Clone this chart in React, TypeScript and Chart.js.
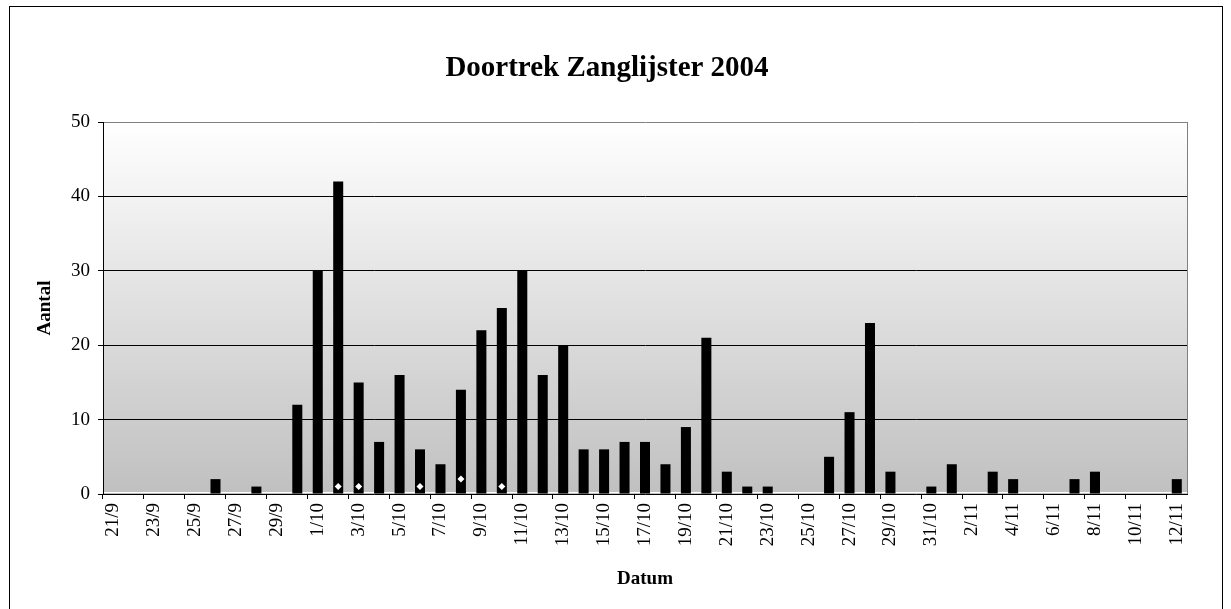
import React, { useEffect, useRef } from "react";
import { Chart, registerables } from "chart.js";

Chart.register(...registerables);

const dates = [
  "21/9", "22/9", "23/9", "24/9", "25/9", "26/9", "27/9", "28/9", "29/9", "30/9",
  "1/10", "2/10", "3/10", "4/10", "5/10", "6/10", "7/10", "8/10", "9/10", "10/10",
  "11/10", "12/10", "13/10", "14/10", "15/10", "16/10", "17/10", "18/10", "19/10", "20/10",
  "21/10", "22/10", "23/10", "24/10", "25/10", "26/10", "27/10", "28/10", "29/10", "30/10",
  "31/10", "1/11", "2/11", "3/11", "4/11", "5/11", "6/11", "7/11", "8/11", "9/11",
  "10/11", "11/11", "12/11",
];

const counts = [
  0, 0, 0, 0, 0, 2, 0, 1, 0, 12,
  30, 42, 15, 7, 16, 6, 4, 14, 22, 25,
  30, 16, 20, 6, 6, 7, 7, 4, 9, 21,
  3, 1, 1, 0, 0, 5, 11, 23, 3, 0,
  1, 4, 0, 3, 2, 0, 0, 2, 3, 0,
  0, 0, 2,
];

const markerValues = [
  null, null, null, null, null, null, null, null, null, null,
  null, 1, 1, null, null, 1, null, 2, null, 1,
  null, null, null, null, null, null, null, null, null, null,
  null, null, null, null, null, null, null, null, null, null,
  null, null, null, null, null, null, null, null, null, null,
  null, null, null,
];

const yTicks = [0, 10, 20, 30, 40, 50];

const chartTitle = "Doortrek Zanglijster 2004";
const yTitle = "Aantal";
const xTitle = "Datum";

const SERIF = "'Liberation Serif', 'Times New Roman', serif";

const decorPlugin = {
  id: "decor",
  beforeDraw(chart: any) {
    const { ctx, chartArea } = chart;
    ctx.save();
    ctx.strokeStyle = "#000";
    ctx.lineWidth = 1;
    ctx.strokeRect(9.5, 6.5, 1213, 700);
    const g = ctx.createLinearGradient(0, chartArea.top, 0, chartArea.bottom);
    g.addColorStop(0, "#ffffff");
    g.addColorStop(1, "#c0c0c0");
    ctx.fillStyle = g;
    ctx.fillRect(chartArea.left, chartArea.top, chartArea.right - chartArea.left, chartArea.bottom - chartArea.top);
    ctx.restore();
  },
  beforeDatasetsDraw(chart: any) {
    const { ctx, chartArea } = chart;
    const y0 = Math.round(chart.scales.y.getPixelForValue(0));
    ctx.save();
    ctx.strokeStyle = "#ffffff";
    ctx.lineWidth = 1;
    ctx.beginPath();
    ctx.moveTo(chartArea.left + 1, y0 - 1.5);
    ctx.lineTo(chartArea.right, y0 - 1.5);
    ctx.stroke();
    ctx.strokeStyle = "#808080";
    ctx.beginPath();
    const r = Math.round(chartArea.right) + 0.5;
    ctx.moveTo(r, chartArea.top);
    ctx.lineTo(r, chartArea.bottom);
    ctx.stroke();
    ctx.restore();
  },
};

export default function App() {
  const ref = useRef<HTMLCanvasElement | null>(null);

  useEffect(() => {
    if (!ref.current) return;
    Chart.defaults.font.family = SERIF;
    Chart.defaults.color = "#000";
    const chart = new Chart(ref.current, {
      type: "bar",
      data: {
        labels: dates,
        datasets: [
          {
            type: "line",
            label: "markers",
            data: markerValues as any,
            showLine: false,
            pointStyle: "rectRot",
            pointRadius: 3.5,
            pointBackgroundColor: "#ffffff",
            pointBorderColor: "#ffffff",
            pointBorderWidth: 0,
            order: 0,
          } as any,
          {
            type: "bar",
            label: "Zanglijster",
            data: counts,
            backgroundColor: "#000000",
            borderWidth: 0,
            barPercentage: 0.49,
            categoryPercentage: 1,
            order: 1,
          },
        ],
      },
      plugins: [decorPlugin],
      options: {
        responsive: false,
        animation: false,
        layout: { padding: { left: 0, right: 17, top: 0, bottom: 0 } },
        plugins: {
          legend: { display: false },
          tooltip: { enabled: false },
          title: {
            display: true,
            text: chartTitle,
            color: "#000",
            font: { family: SERIF, size: 29, weight: "bold", lineHeight: 1.2 },
            padding: { top: 51, bottom: 36.2 },
          },
        },
        scales: {
          x: {
            type: "category",
            offset: true,
            afterFit(scale: any) {
              scale.height = 115;
            },
            grid: {
              offset: true,
              drawOnChartArea: false,
              drawTicks: true,
              tickLength: 5,
              color: (c: any) => (c.index % 2 === 0 ? "#000" : "rgba(0,0,0,0)"),
            },
            border: { display: true, color: "#000", width: 1 },
            ticks: {
              autoSkip: false,
              maxRotation: 90,
              minRotation: 90,
              padding: 4,
              color: "#000",
              font: { family: SERIF, size: 19 },
              callback: (_v: any, i: number) => (i % 2 === 0 ? dates[i] : ""),
            },
            title: {
              display: true,
              text: xTitle,
              color: "#000",
              font: { family: SERIF, size: 19, weight: "bold", lineHeight: 1.2 },
              padding: { top: 0, bottom: 19 },
            },
          },
          y: {
            min: 0,
            max: 50,
            afterFit(scale: any) {
              scale.width = 103;
            },
            afterBuildTicks(scale: any) {
              scale.ticks = yTicks.map((v) => ({ value: v }));
            },
            grid: {
              drawTicks: true,
              tickLength: 5,
              tickColor: "#000",
              color: (c: any) =>
                c.tick && c.tick.value === 50 ? "#808080" : c.tick && c.tick.value === 0 ? "rgba(0,0,0,0)" : "#000",
            },
            border: { display: true, color: "#000", width: 1 },
            ticks: {
              padding: 8,
              color: "#000",
              font: { family: SERIF, size: 19 },
            },
            title: {
              display: true,
              text: yTitle,
              color: "#000",
              font: { family: SERIF, size: 19, weight: "bold", lineHeight: 1.2 },
              padding: { top: 34, bottom: 0 },
            },
          },
          spacer: {
            type: "linear",
            position: "right",
            display: true,
            afterFit(scale: any) {
              scale.width = 27;
            },
            grid: { display: false, drawTicks: false },
            border: { display: false },
            ticks: { display: false },
            title: { display: false },
          } as any,
        },
      },
    });
    return () => chart.destroy();
  }, []);

  return (
    <div style={{ position: "fixed", left: 0, top: 0, width: 1231, height: 609, background: "#fff" }}>
      <canvas ref={ref} width={1231} height={609} style={{ display: "block", width: 1231, height: 609 }} />
    </div>
  );
}
